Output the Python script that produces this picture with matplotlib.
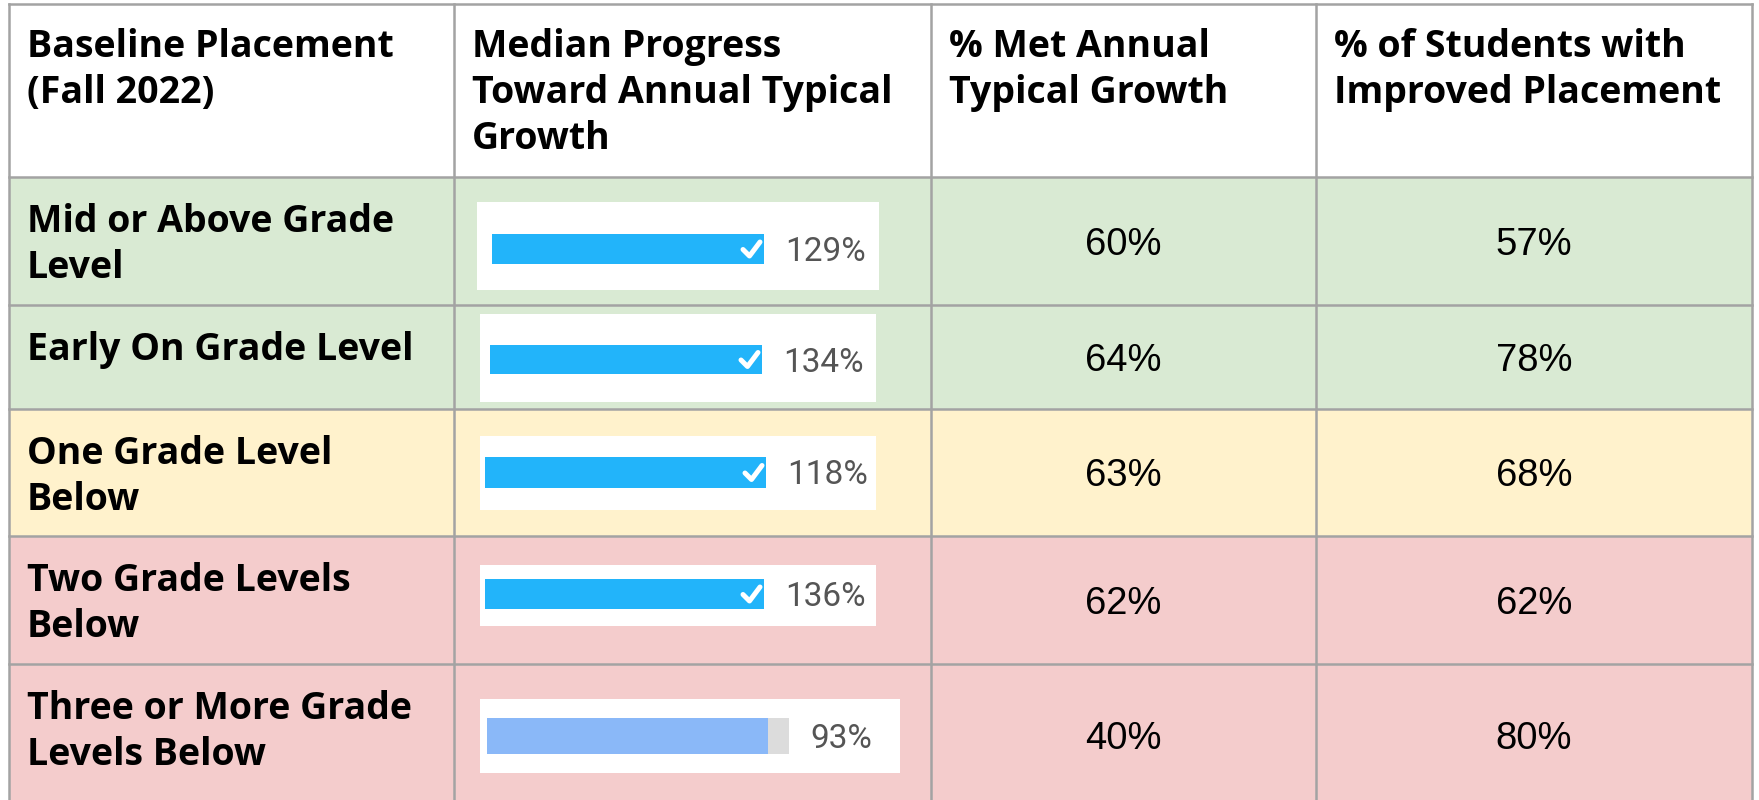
import numpy as np
import matplotlib
matplotlib.use("Agg")
import matplotlib.pyplot as plt
from matplotlib.patches import Rectangle

# ----------------------------------------------------------------------
# table content
# ----------------------------------------------------------------------

HEADERS = [
    "Baseline Placement\n(Fall 2022)",
    "Median Progress\nToward Annual Typical\nGrowth",
    "% Met Annual\nTypical Growth",
    "% of Students with\nImproved Placement",
]
PLACEMENTS = [
    "Mid or Above Grade\nLevel",
    "Early On Grade Level",
    "One Grade Level\nBelow",
    "Two Grade Levels\nBelow",
    "Three or More Grade\nLevels Below",
]
MEDIAN_PROGRESS = [129, 134, 118, 136, 93]
MET_TYPICAL = [60, 64, 63, 62, 40]
IMPROVED = [57, 78, 68, 62, 80]
ROW_BANDS = ["green", "green", "yellow", "red", "red"]

# ----------------------------------------------------------------------
# layout (pixels, figure is 1759 x 800 at dpi 100)
# ----------------------------------------------------------------------

W, H = 1759, 800
col_x = [9, 454, 931, 1316, 1752]
row_y = [4, 177, 305, 409, 536, 664, 806]
band_color = {"green": "#d9ead3", "yellow": "#fff2cc", "red": "#f4cccc"}
grid_color = "#a3a3a3"

# the progress bars are pasted images in the original, each a bit off
# box: x0, x1, y0, y1   bar: x0, track length, y0, y1
boxes = [(477, 879, 202, 290), (480, 876, 314, 402), (480, 876, 436, 510),
         (480, 876, 565, 626), (480, 900, 699, 773)]
tracks = [(492, 272, 234, 264), (490, 272, 345, 374), (485, 281, 457, 488),
          (485, 279, 579, 609), (487, 302, 718, 754)]

HEAD_FONT = "Open Sans"
NUM_FONT = "Liberation Sans"
BAR_FONT = "Roboto"

fig = plt.figure(figsize=(W / 100, H / 100), dpi=100)
ax = fig.add_axes([0, 0, 1, 1])
ax.set_xlim(0, W)
ax.set_ylim(H, 0)
ax.axis("off")

# cell backgrounds
ax.add_patch(Rectangle((col_x[0], row_y[0]), col_x[-1] - col_x[0],
                       row_y[1] - row_y[0], facecolor="white", lw=0))
for i, band in enumerate(ROW_BANDS):
    ax.add_patch(Rectangle((col_x[0], row_y[i + 1]), col_x[-1] - col_x[0],
                           row_y[i + 2] - row_y[i + 1],
                           facecolor=band_color[band], lw=0))

# grid lines
for x in col_x:
    ax.plot([x, x], [row_y[0], row_y[-1]], color=grid_color, lw=1.8, zorder=3)
for y in row_y:
    ax.plot([col_x[0], col_x[-1]], [y, y], color=grid_color, lw=1.8, zorder=3)

LINE_STEP = 46

# header row
for c, head in enumerate(HEADERS):
    for k, line in enumerate(head.split("\n")):
        ax.text(col_x[c] + 18, 57 + k * LINE_STEP, line, fontsize=27,
                fontfamily=HEAD_FONT, fontweight="bold", color="black",
                va="baseline", ha="left")

# first column: placement labels, top aligned
for r, label in enumerate(PLACEMENTS):
    for k, line in enumerate(label.split("\n")):
        ax.text(col_x[0] + 18, row_y[r + 1] + 55 + k * LINE_STEP, line,
                fontsize=27, fontfamily=HEAD_FONT, fontweight="bold",
                color="black", va="baseline", ha="left")

# progress bars
for r, val in enumerate(MEDIAN_PROGRESS):
    bx0, bx1, by0, by1 = boxes[r]
    ax.add_patch(Rectangle((bx0, by0), bx1 - bx0, by1 - by0,
                           facecolor="white", lw=0, zorder=2))
    tx0, tlen, ty0, ty1 = tracks[r]
    yc = (ty0 + ty1) / 2
    hit = val >= 100
    if not hit:
        ax.barh(yc, tlen, left=tx0, height=ty1 - ty0, color="#dcdcdc", zorder=4)
    fill = min(val, 100) / 100 * tlen
    ax.barh(yc, fill, left=tx0, height=ty1 - ty0,
            color="#22b4fa" if hit else "#8ab8f8", zorder=5)
    if hit:
        end = tx0 + fill
        ax.plot([end - 21, end - 14.5, end - 4], [yc + 0.5, yc + 7, yc - 7],
                color="white", lw=3.6, solid_capstyle="round",
                solid_joinstyle="round", zorder=6)
    ax.text(tx0 + tlen + 21, yc + 12, f"{val}%", fontsize=24,
            fontfamily=BAR_FONT, color="#555555", va="baseline", ha="left",
            zorder=6)

# percentage columns
for c, values in ((2, MET_TYPICAL), (3, IMPROVED)):
    xc = (col_x[c] + col_x[c + 1]) / 2
    for r, val in enumerate(values):
        yc = (row_y[r + 1] + row_y[r + 2]) / 2
        ax.text(xc, yc + 14, f"{val}%", fontsize=27.5, fontfamily=NUM_FONT,
                color="black", va="baseline", ha="center")

fig.savefig("out.png", dpi=100, facecolor="white")
